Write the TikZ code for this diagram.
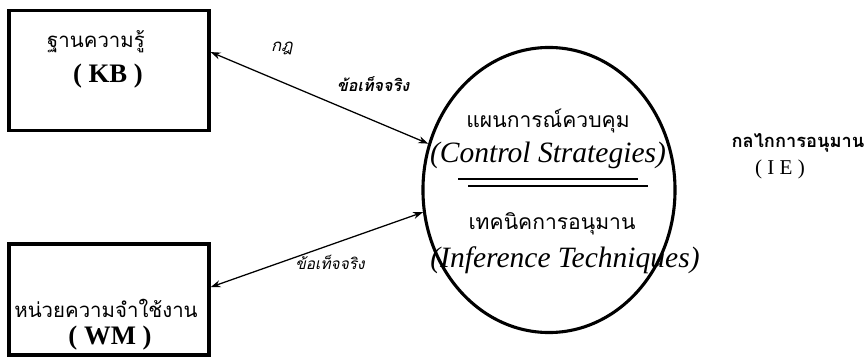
\documentclass[tikz,border=0pt]{standalone}
\usepackage{fontspec}
\setmainfont{Liberation Serif}
\newfontfamily\thaifont[Script=Thai]{Loma}
\usetikzlibrary{shapes.geometric,arrows.meta}

\tikzset{
  box/.style={draw, line width=2.4pt, minimum width=5cm, minimum height=3.0cm, inner sep=0pt},
  conn/.style={{Stealth[length=7pt,width=5pt]}-{Stealth[length=7pt,width=5pt]}, line width=0.9pt},
  thtext/.style={font=\thaifont\fontsize{14.5}{16}\selectfont, inner sep=0pt},
  intext/.style={font=\thaifont\fontsize{15}{17}\selectfont, inner sep=0pt},
  entext/.style={font=\itshape\fontsize{21}{23}\selectfont, inner sep=0pt},
}

\begin{document}
\begin{tikzpicture}[x=0.025cm, y=-0.025cm]
\useasboundingbox (0,0) rectangle (864,362);

\node[box] (kb) at (109,70.5) {};
\node[box, minimum height=2.775cm] (wm) at (109,299.5) {};
\node[draw, ellipse, line width=2.2pt, minimum width=6.3cm, minimum height=7.125cm] (ie) at (549,190) {};

\node[thtext] (kbname) at (96,42) {ฐานความรู้};
\node[font=\bfseries\fontsize{19}{21}\selectfont, inner sep=0pt] (kbabbr) at (108,76) {( KB )};
\node[thtext] (wmname) at (106,308) {หน่วยความจำใช้งาน};
\node[font=\bfseries\fontsize{19}{21}\selectfont, inner sep=0pt] (wmabbr) at (110,338) {( WM )};

\node[intext] (ctrlth) at (548,121) {แผนการณ์ควบคุม};
\node[entext] (ctrlen) at (548,155) {(Control Strategies)};
\node[intext] (infth) at (552,224) {เทคนิคการอนุมาน};
\node[entext] (infen) at (565,260) {(Inference Techniques)};

\draw[line width=1.1pt] (458,179) -- (638,179);
\draw[line width=1.4pt] (468,186) -- (648,186);

\node[font=\thaifont\bfseries\fontsize{13}{15}\selectfont, inner sep=0pt] (iename) at (798,143) {กลไกการอนุมาน};
\node[font=\fontsize{15}{17}\selectfont, inner sep=0pt] (ieabbr) at (780,169) {( I E )};

\draw[conn] ([yshift=0.46cm]kb.east) -- (ie.159);
\draw[conn] ([yshift=0.31cm]wm.east) -- (ie.190);

\node[font=\thaifont\itshape\fontsize{12}{14}\selectfont, inner sep=0pt] (rule) at (282,48) {กฎ};
\node[font=\thaifont\bfseries\itshape\fontsize{11.5}{13}\selectfont, inner sep=0pt] (facttop) at (373,84) {ข้อเท็จจริง};
\node[font=\thaifont\itshape\fontsize{11}{13}\selectfont, inner sep=0pt] (factbot) at (330,262) {ข้อเท็จจริง};
\end{tikzpicture}
\end{document}
